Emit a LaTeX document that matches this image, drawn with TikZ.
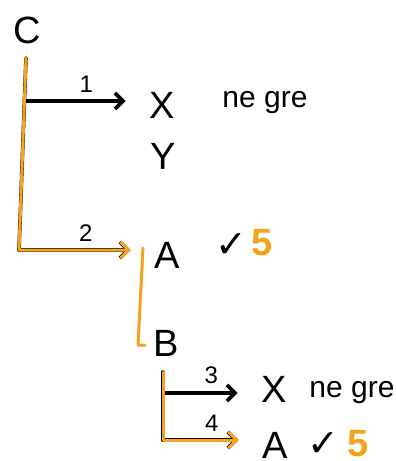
\documentclass[tikz,border=0pt]{standalone}
\usepackage{fontspec}
\setmainfont{Liberation Sans}
\newfontfamily\symfont{DejaVu Sans}
\usetikzlibrary{arrows.meta,positioning,calc}
\definecolor{hl}{HTML}{F5A31A}

\begin{document}
\begin{tikzpicture}[x=1pt,y=-1pt,line width=3.6pt,line cap=round,line join=round,
  big/.style={font=\fontsize{38}{38}\selectfont,inner sep=0pt},
  note/.style={font=\fontsize{30}{30}\selectfont,inner sep=0pt},
  num/.style={font=\fontsize{24}{24}\selectfont,inner sep=0pt,above=7pt},
  pick/.style={hl,line width=3pt,xshift=1.8pt,yshift=1.2pt},
  arr/.style={-{Straight Barb[length=8pt,width=16pt]},shorten >=22pt}]
  \useasboundingbox (0,0) rectangle (396,461);

  % words
  \node[big] (C) at (27,30) {C};
  \node[big] (X1) at (162,105) {X};
  \node[note] (ng1) at (265,103) {ne gre};
  \node[big] (Y) at (163,156) {Y};
  \node[big] (A1) at (167,255) {A};
  \node[big] (ok1) at (231,246) {\symfont ✓};
  \node[big,hl] (five1) at (262,243) {\bfseries 5};
  \node[big] (B) at (166,343) {B};
  \node[big] (X2) at (274,389) {X};
  \node[note] (ng2) at (352,393) {ne gre};
  \node[big] (A2) at (275,445) {A};
  \node[big] (ok2) at (323,445) {\symfont ✓};
  \node[big,hl] (five2) at (358,444) {\bfseries 5};

  \coordinate (top1) at (26,58);
  \coordinate (fork1) at (25,101);
  \coordinate (bend1) at (19,250);
  \coordinate (tail) at (143,248);
  \coordinate (foot) at (138,345);
  \coordinate (top2) at (163,372);
  \coordinate (fork2) at (163,393);
  \coordinate (bend2) at (163,440);

  % first tree
  \draw (top1) -- (bend1);
  \draw[arr] (fork1) -- (fork1 -| X1.west) node[midway,num] {1};
  \draw[arr] (bend1) -- (bend1 -| A1.west) node[midway,num] {2};
  \draw[pick,arr] (top1) -- (bend1) -- (bend1 -| A1.west);
  \draw[pick] (tail) -- (foot) -- ++(7,0);

  % second tree
  \draw (top2) -- (bend2);
  \draw[arr] (fork2) -- (fork2 -| X2.west) node[midway,num] {3};
  \draw[arr] (bend2) -- (bend2 -| A2.west) node[midway,num] {4};
  \draw[pick,arr] (top2) -- (bend2) -- (bend2 -| A2.west);
\end{tikzpicture}
\end{document}
